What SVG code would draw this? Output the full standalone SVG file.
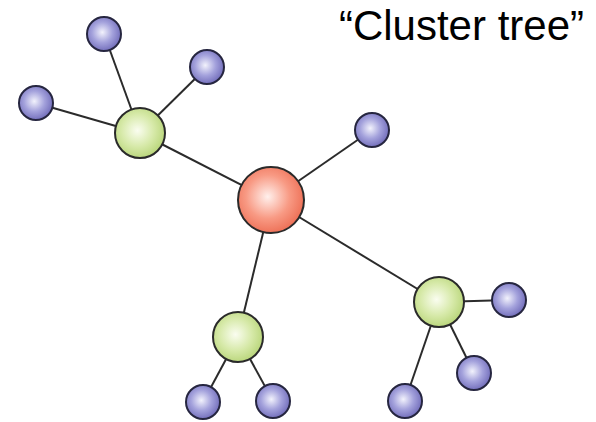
<svg xmlns="http://www.w3.org/2000/svg" width="596" height="422" viewBox="0 0 596 422">
<defs>
<radialGradient id="gRed" cx="0.45" cy="0.45" r="0.6">
<stop offset="0" stop-color="#fff0ec"/>
<stop offset="0.55" stop-color="#f89a84"/>
<stop offset="1" stop-color="#ec6a50"/>
</radialGradient>
<radialGradient id="gGreen" cx="0.45" cy="0.45" r="0.6">
<stop offset="0" stop-color="#fafdf0"/>
<stop offset="0.55" stop-color="#d6e9a8"/>
<stop offset="1" stop-color="#b5d374"/>
</radialGradient>
<radialGradient id="gPurple" cx="0.45" cy="0.45" r="0.6">
<stop offset="0" stop-color="#f2f2fc"/>
<stop offset="0.5" stop-color="#a4a2dc"/>
<stop offset="1" stop-color="#6b66b6"/>
</radialGradient>
</defs>
<style>
.edge{stroke:#2b2b2b;stroke-width:2;fill:none}
.red{fill:url(#gRed);stroke:#2a2a2a;stroke-width:2}
.green{fill:url(#gGreen);stroke:#2a2a2a;stroke-width:2}
.purple{fill:url(#gPurple);stroke:#262640;stroke-width:2}
.title{font-family:"Liberation Sans",Arial,sans-serif;font-size:42px;fill:#000}
</style>
<rect width="596" height="422" fill="#ffffff"/>
<g id="connectors">
<line class="edge" x1="271" y1="200" x2="140" y2="133"/>
<line class="edge" x1="271" y1="200" x2="372" y2="130"/>
<line class="edge" x1="271" y1="200" x2="439" y2="302"/>
<line class="edge" x1="271" y1="200" x2="238" y2="337"/>
<line class="edge" x1="140" y1="133" x2="104" y2="34"/>
<line class="edge" x1="140" y1="133" x2="207" y2="67"/>
<line class="edge" x1="140" y1="133" x2="36" y2="103"/>
<line class="edge" x1="439" y1="302" x2="509" y2="300"/>
<line class="edge" x1="439" y1="302" x2="474" y2="373"/>
<line class="edge" x1="439" y1="302" x2="405" y2="401"/>
<line class="edge" x1="238" y1="337" x2="203" y2="402"/>
<line class="edge" x1="238" y1="337" x2="273" y2="401"/>
</g>
<g id="root"><circle class="red" cx="271" cy="200" r="33"/></g>
<g id="cluster1"><circle class="green" cx="140" cy="133" r="25"/></g>
<g id="cluster2"><circle class="green" cx="439" cy="302" r="25"/></g>
<g id="cluster3"><circle class="green" cx="238" cy="337" r="25"/></g>
<g id="leaf1"><circle class="purple" cx="104" cy="34" r="17"/></g>
<g id="leaf2"><circle class="purple" cx="207" cy="67" r="17"/></g>
<g id="leaf3"><circle class="purple" cx="36" cy="103" r="17"/></g>
<g id="leaf4"><circle class="purple" cx="372" cy="130" r="17"/></g>
<g id="leaf5"><circle class="purple" cx="509" cy="300" r="17"/></g>
<g id="leaf6"><circle class="purple" cx="474" cy="373" r="17"/></g>
<g id="leaf7"><circle class="purple" cx="405" cy="401" r="17"/></g>
<g id="leaf8"><circle class="purple" cx="203" cy="402" r="17"/></g>
<g id="leaf9"><circle class="purple" cx="273" cy="401" r="17"/></g>
<text class="title" x="584" y="40" text-anchor="end">“Cluster tree”</text>
</svg>
